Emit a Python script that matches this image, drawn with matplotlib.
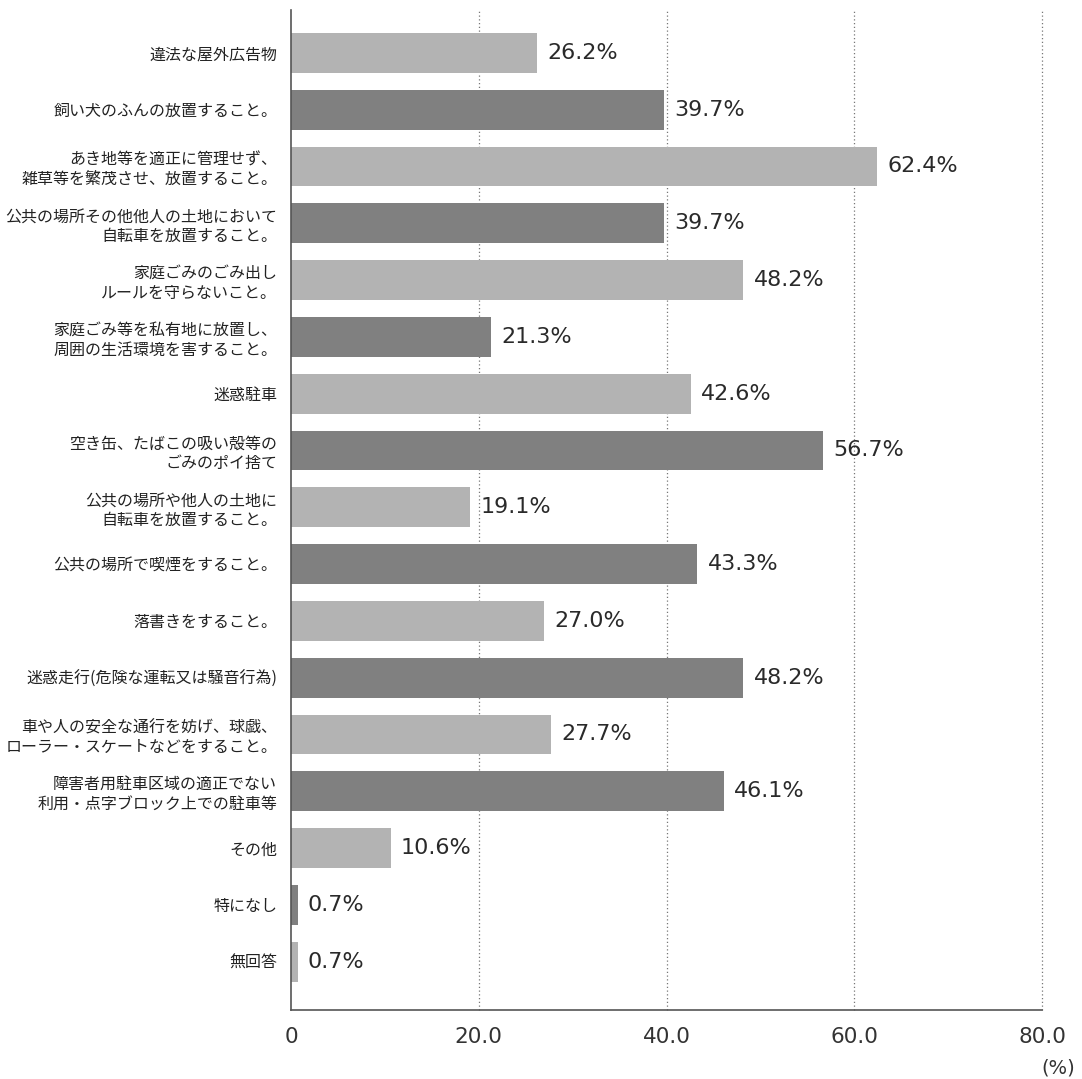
import matplotlib
matplotlib.use("Agg")
import matplotlib.pyplot as plt

plt.rcParams['font.family'] = ['Noto Sans CJK JP', 'DejaVu Sans']

# 回答項目と割合(%)
categories = [
    "違法な屋外広告物",
    "飼い犬のふんの放置すること。",
    "あき地等を適正に管理せず、\n雑草等を繁茂させ、放置すること。",
    "公共の場所その他他人の土地において\n自転車を放置すること。",
    "家庭ごみのごみ出し\nルールを守らないこと。",
    "家庭ごみ等を私有地に放置し、\n周囲の生活環境を害すること。",
    "迷惑駐車",
    "空き缶、たばこの吸い殻等の\nごみのポイ捨て",
    "公共の場所や他人の土地に\n自転車を放置すること。",
    "公共の場所で喫煙をすること。",
    "落書きをすること。",
    "迷惑走行(危険な運転又は騒音行為)",
    "車や人の安全な通行を妨げ、球戯、\nローラー・スケートなどをすること。",
    "障害者用駐車区域の適正でない\n利用・点字ブロック上での駐車等",
    "その他",
    "特になし",
    "無回答",
]
values = [26.2, 39.7, 62.4, 39.7, 48.2, 21.3, 42.6, 56.7, 19.1, 43.3,
          27.0, 48.2, 27.7, 46.1, 10.6, 0.7, 0.7]
xticks = [0, 20, 40, 60, 80]
xticklabels = ["0", "20.0", "40.0", "60.0", "80.0"]

light = "#b3b3b3"
dark = "#808080"
colors = [light if i % 2 == 0 else dark for i in range(len(values))]
num_font = "DejaVu Sans"

fig = plt.figure(figsize=(10.82, 10.79), dpi=100)
ax = fig.add_axes([0.269, 0.064, 0.694, 0.927])

pos = list(range(len(values)))
ax.barh(pos, values, height=0.7, color=colors, zorder=2)

for p, v in zip(pos, values):
    ax.text(v + 1.1, p, f"{v:.1f}%", va="center", ha="left", family=num_font,
            fontsize=16, color="#2a2a2a", zorder=3)

ax.set_xlim(0, 80)
ax.set_ylim(16.85, -0.76)
ax.set_yticks(pos)
ax.set_yticklabels(categories, fontsize=11.5, color="#222222", linespacing=1.2)
ax.set_xticks(xticks)
ax.set_xticklabels(xticklabels, fontsize=15.5, color="#333333", family=num_font)
ax.tick_params(axis="both", length=0)
ax.tick_params(axis="y", pad=10)
ax.tick_params(axis="x", pad=12)

# dotted guides, the one at 80 sits on the right edge
for x in xticks[1:]:
    ax.axvline(x, color="#777777", linestyle=(0, (1, 2)), linewidth=0.9,
               zorder=1, clip_on=False)

for s in ["top", "right"]:
    ax.spines[s].set_visible(False)
for s in ["left", "bottom"]:
    ax.spines[s].set_color("#555555")
    ax.spines[s].set_linewidth(1.2)

fig.text(0.994, 0.010, "(%)", ha="right", va="center", fontsize=14,
         color="#333333", family=num_font)

fig.savefig("out.png", dpi=100, facecolor="white")
